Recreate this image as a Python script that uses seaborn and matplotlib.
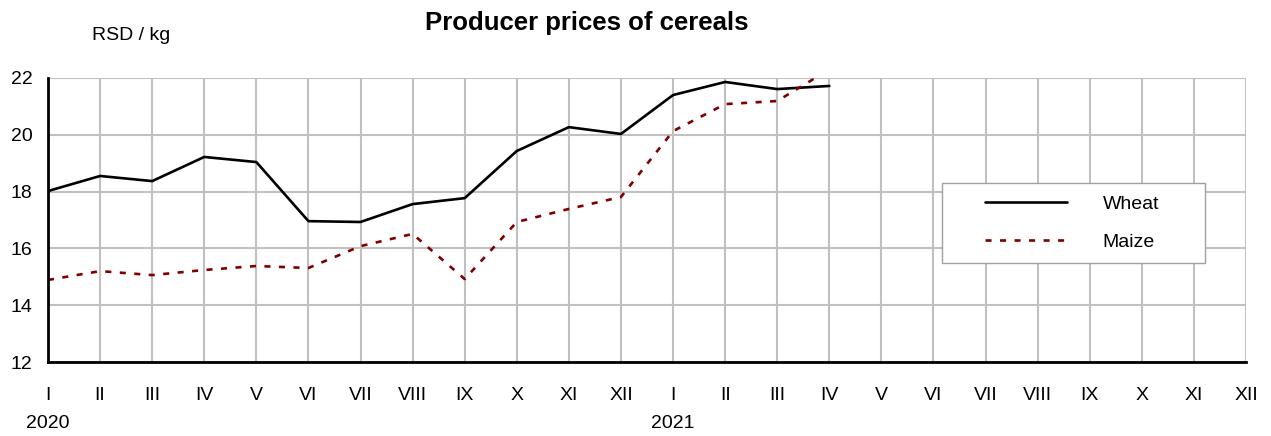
import pandas as pd
import matplotlib
matplotlib.use("Agg")
import matplotlib.pyplot as plt
from matplotlib.patches import Rectangle
import seaborn as sns

months = ["I", "II", "III", "IV", "V", "VI", "VII", "VIII", "IX", "X", "XI", "XII"] * 2
years = ["2020", "2021"]
wheat = [18.02, 18.55, 18.37, 19.22, 19.04, 16.96, 16.93, 17.56, 17.77, 19.43, 20.27, 20.03,
         21.40, 21.86, 21.61, 21.72]
maize = [14.89, 15.20, 15.06, 15.24, 15.38, 15.31, 16.08, 16.51, 14.92, 16.93, 17.39, 17.81,
         20.13, 21.08, 21.19, 22.30]

df = pd.DataFrame({
    "month": list(range(len(wheat))) * 2,
    "price": wheat + maize,
    "crop": ["Wheat"] * len(wheat) + ["Maize"] * len(maize),
})

sns.set_theme(style="whitegrid")
plt.rcParams["font.family"] = ["Liberation Sans", "DejaVu Sans"]
plt.rcParams["text.color"] = "black"
plt.rcParams["xtick.color"] = "black"
plt.rcParams["ytick.color"] = "black"

fig = plt.figure(figsize=(12.71, 4.36), dpi=100)
ax = fig.add_axes([48 / 1271, 74 / 436, 1198 / 1271, 284 / 436])

sns.lineplot(data=df, x="month", y="price", hue="crop", style="crop",
             palette={"Wheat": "black", "Maize": "#800000"},
             dashes={"Wheat": "", "Maize": (2.3, 3.2)},
             linewidth=1.9, ax=ax)

ax.set_xlim(0, 23)
ax.set_ylim(12, 22)
ax.set_xticks(range(24))
ax.set_xticklabels(months)
ax.set_yticks(range(12, 23, 2))
ax.grid(True, color="#c0c0c0", linewidth=1.5)
ax.tick_params(axis="x", length=0, pad=18, labelsize=14)
ax.tick_params(axis="y", length=0, pad=11, labelsize=14)
ax.set_xlabel("")
ax.set_ylabel("")
for s in ["top", "right"]:
    ax.spines[s].set_visible(False)
for s in ["left", "bottom"]:
    ax.spines[s].set_color("black")
    ax.spines[s].set_linewidth(2)
    ax.spines[s].set_zorder(5)

for i, yr in enumerate(years):
    ax.text(i * 12, -0.218, yr, transform=ax.get_xaxis_transform(),
            ha="center", va="center", fontsize=14)

# legend frame drawn separately so the inner padding can be wider than tall
ax.add_patch(Rectangle((942 / 1271, 1 - 263 / 436), 263 / 1271, 80 / 436,
                       transform=fig.transFigure, facecolor="white",
                       edgecolor="#a0a0a0", linewidth=1, zorder=4, clip_on=False))
leg = ax.legend(loc="center left", bbox_to_anchor=(985 / 1271, 1 - 223 / 436),
                bbox_transform=fig.transFigure, fontsize=14, frameon=False,
                handlelength=4.2, handletextpad=1.85, borderpad=0,
                labelspacing=1.05, borderaxespad=0)
leg.set_zorder(6)

fig.text(587 / 1271, 1 - 23 / 436, "Producer prices of cereals",
         ha="center", va="center", fontsize=18.5, fontweight="bold")
fig.text(92 / 1271, 1 - 35 / 436, "RSD / kg", ha="left", va="center", fontsize=14)

fig.savefig("out.png", dpi=100, facecolor="white")
